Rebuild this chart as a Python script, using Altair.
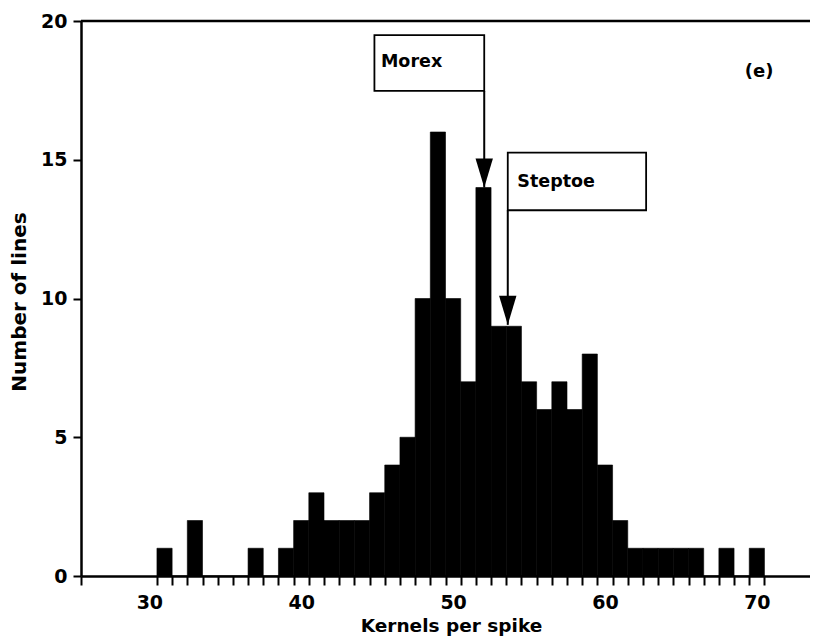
import altair as alt
import pandas as pd

# Histogram data: bin centres (kernels per spike) and counts (number of lines)
bin_centers = list(range(31, 71))
counts = [1, 0, 2, 0, 0, 0, 1, 0, 1, 2,
          3, 2, 2, 2, 3, 4, 5, 10, 16, 10,
          7, 14, 9, 9, 7, 6, 7, 6, 8, 4,
          2, 1, 1, 1, 1, 1, 0, 1, 0, 1]

# Axis ticks / labels
x_label_values = [30, 40, 50, 60, 70]
x_tick_values = [25.5] + [v + 0.5 for v in range(30, 71)]
y_tick_values = [0, 5, 10, 15, 20]

# Annotations (parent lines)
ann_names = ["Morex", "Steptoe"]
ann_x = [52.05, 53.6]
ann_tip = [14.0, 9.05]
ann_line_top = [17.48, 13.18]
box_x0 = [44.82, 53.6]
box_x1 = [52.05, 62.71]
box_y0 = [17.48, 13.18]
box_y1 = [19.49, 15.26]
text_x = [45.25, 54.23]
text_y = [18.53, 14.2]

panel_label = "(e)"
panel_x, panel_y = 70.15, 18.17

FONT = "DejaVu Sans"
XDOM = [25.5, 73.5]
YDOM = [0, 20]

hist = pd.DataFrame({
    "start": [c - 0.5 for c in bin_centers],
    "end": [c + 0.5 for c in bin_centers],
    "count": counts,
})
ann = pd.DataFrame({
    "name": ann_names, "x": ann_x, "tip": ann_tip, "ltop": ann_line_top,
    "bx0": box_x0, "bx1": box_x1, "by0": box_y0, "by1": box_y1,
    "tx": text_x, "ty": text_y,
})

all_x_values = sorted(x_tick_values + x_label_values)

xscale = alt.Scale(domain=XDOM, nice=False, zero=False)
yscale = alt.Scale(domain=YDOM, nice=False)

xaxis = alt.Axis(
    values=all_x_values, tickCount=500, format="d",
    labelExpr="datum.value % 10 == 0 ? datum.label : ''",
    tickOpacity={"condition": {"test": "datum.value % 1 == 0", "value": 0}, "value": 1},
    tickSize=9, tickWidth=2, tickColor="black",
    domainColor="black", domainWidth=2.5,
    labelFont=FONT, labelFontSize=19, labelFontWeight="bold", labelColor="black",
    labelPadding=8, labelOverlap=False, labelFlush=False, labelBound=False,
    grid=False,
    title="Kernels per spike", titleFont=FONT, titleFontSize=18.5, titleFontWeight="bold",
    titleColor="black", titleX=370, titleY=55, titleAlign="center",
    titleBaseline="alphabetic", titleAnchor="start",
)
yaxis = alt.Axis(
    values=y_tick_values, format="d", tickSize=8, tickWidth=2, tickColor="black",
    domainColor="black", domainWidth=2.5,
    labelFont=FONT, labelFontSize=19, labelFontWeight="bold", labelColor="black",
    labelPadding=6, grid=False,
    title="Number of lines", titleFont=FONT, titleFontSize=20, titleFontWeight="bold",
    titleColor="black", titleX=-62, titleY=280.5, titleAngle=-90,
    titleAlign="center", titleBaseline="middle", titleAnchor="start",
)

bars = alt.Chart(hist).mark_bar(color="black", stroke="black", strokeWidth=0.6).encode(
    x=alt.X("start:Q", scale=xscale, axis=xaxis),
    x2="end:Q",
    y=alt.Y("count:Q", scale=yscale, axis=yaxis),
    y2=alt.datum(0),
)

top_line = alt.Chart(pd.DataFrame({"a": [0]})).mark_rule(color="black", strokeWidth=2.5).encode(
    x=alt.datum(XDOM[0]), x2=alt.datum(XDOM[1]), y=alt.datum(YDOM[1])
)

boxes = alt.Chart(ann).mark_rect(fill="white", stroke="black", strokeWidth=1.8).encode(
    x="bx0:Q", x2="bx1:Q", y="by0:Q", y2="by1:Q"
)

lines = alt.Chart(ann).mark_rule(color="black", strokeWidth=2).encode(
    x="x:Q", y="ltop:Q", y2="tip:Q"
)

heads = alt.Chart(ann).mark_point(
    shape="M -0.6 -2 L 0.6 -2 L 0 0 Z", filled=True, color="black", opacity=1, size=841,
    strokeWidth=0
).encode(x="x:Q", y="tip:Q")

texts = alt.Chart(ann).mark_text(
    font=FONT, fontSize=17.5, fontWeight="bold", align="left", baseline="middle", color="black"
).encode(x="tx:Q", y="ty:Q", text="name:N")

panel = alt.Chart(pd.DataFrame({"t": [panel_label], "x": [panel_x], "y": [panel_y]})).mark_text(
    font=FONT, fontSize=18, fontWeight="bold", align="center", baseline="middle", color="black"
).encode(x="x:Q", y="y:Q", text="t:N")

chart = alt.layer(bars, top_line, boxes, lines, heads, texts, panel).properties(
    width=729, height=555,
    autosize=alt.AutoSizeParams(type="none"),
    padding={"left": 73, "top": 13, "right": 0, "bottom": 60},
    background="white",
).configure_view(stroke=None)

chart.save("out.html", embed_options={"renderer": "svg", "actions": False})
